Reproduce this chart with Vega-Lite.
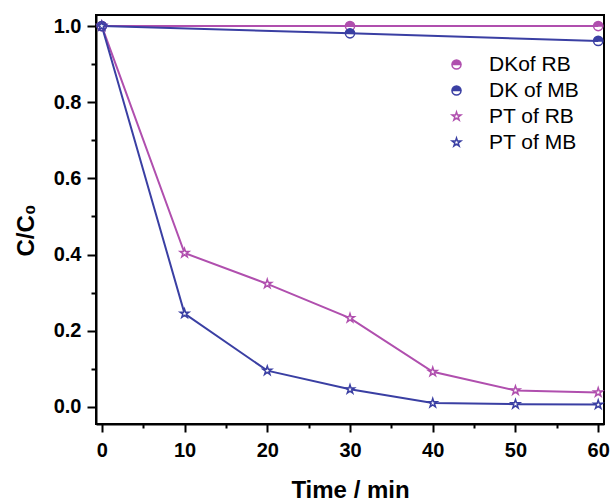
{
  "$schema": "https://vega.github.io/schema/vega-lite/v6.json",
  "width": 508,
  "height": 409,
  "autosize": {"type": "none"},
  "padding": {"left": 96, "top": 15, "right": 9, "bottom": 77},
  "background": "white",
  "config": {
    "font": "Liberation Sans",
    "view": {"stroke": "black", "strokeWidth": 2},
    "axis": {
      "domainColor": "black", "domainWidth": 2, "tickColor": "black", "tickWidth": 2,
      "labelFont": "Liberation Sans", "labelFontWeight": "bold", "labelFontSize": 20, "labelColor": "black",
      "titleFont": "Liberation Sans", "titleFontWeight": "bold", "titleFontSize": 24, "titleColor": "black",
      "grid": false
    },
    "legend": {
      "padding": 0,
      "symbolSize": 81, "symbolStrokeWidth": 1.5, "symbolOffset": 0,
      "labelFont": "Liberation Sans", "labelFontSize": 21, "labelColor": "black", "labelOffset": 22,
      "rowPadding": 4
    }
  },
  "data": {
    "values": [
      {"series": "DKof RB", "time": 0, "value": 1.0},
      {"series": "DKof RB", "time": 30, "value": 1.0},
      {"series": "DKof RB", "time": 60, "value": 1.0},
      {"series": "DK of MB", "time": 0, "value": 1.0},
      {"series": "DK of MB", "time": 30, "value": 0.981},
      {"series": "DK of MB", "time": 60, "value": 0.961},
      {"series": "PT of RB", "time": 0, "value": 1.0},
      {"series": "PT of RB", "time": 10, "value": 0.404},
      {"series": "PT of RB", "time": 20, "value": 0.323},
      {"series": "PT of RB", "time": 30, "value": 0.233},
      {"series": "PT of RB", "time": 40, "value": 0.092},
      {"series": "PT of RB", "time": 50, "value": 0.043},
      {"series": "PT of RB", "time": 60, "value": 0.038},
      {"series": "PT of MB", "time": 0, "value": 1.0},
      {"series": "PT of MB", "time": 10, "value": 0.245},
      {"series": "PT of MB", "time": 20, "value": 0.095},
      {"series": "PT of MB", "time": 30, "value": 0.046},
      {"series": "PT of MB", "time": 40, "value": 0.010},
      {"series": "PT of MB", "time": 50, "value": 0.007},
      {"series": "PT of MB", "time": 60, "value": 0.006}
    ]
  },
  "layer": [
    {
      "mark": {"type": "line", "strokeWidth": 2},
      "encoding": {
        "x": {"field": "time", "type": "quantitative",
              "scale": {"domain": [-0.7, 60.7], "nice": false, "zero": false},
              "axis": {"orient": "bottom", "values": [5, 15, 25, 35, 45, 55], "tickSize": 4, "labels": false, "domain": false, "title": null}},
        "y": {"field": "value", "type": "quantitative",
              "scale": {"domain": [-0.045, 1.029], "nice": false, "zero": false},
              "axis": {"orient": "left", "values": [0.1, 0.3, 0.5, 0.7, 0.9], "tickSize": 5, "labels": false, "domain": false, "title": null}},
        "stroke": {"field": "series", "type": "nominal", "title": null,
                  "scale": {"domain": ["DKof RB", "DK of MB", "PT of RB", "PT of MB"], "range": ["#b04fae", "#3a3fa3", "#b04fae", "#3a3fa3"]},
                  "legend": {
                     "orient": "none", "legendX": 350, "legendY": 39, "title": null,
                     "encoding": {"symbols": {
                       "shape": {"condition": {"test": "datum.value === 'DKof RB' || datum.value === 'DK of MB'", "value": "M -5.33 0 L -1 0 M 1 0 L 5.33 0 M -1 0 A 1 1 0 0 1 1 0 Z M 1 0 A 1 1 0 0 1 -1 0 Z M -1 0 A 1 1 0 0 0 1 0 Z"}, "value": "M -5.33 0 L -0.951 0 M 0.951 0 L 5.33 0 M 0 -1 L 0.2245 -0.309 L 0.951 -0.309 L 0.363 0.118 L 0.588 0.809 L 0 0.382 L -0.588 0.809 L -0.363 0.118 L -0.951 -0.309 L -0.2245 -0.309 Z"},
                       "fill": {"condition": [{"test": "datum.value === 'DKof RB'", "value": "#b04fae"}, {"test": "datum.value === 'DK of MB'", "value": "#3a3fa3"}], "value": "white"},
                       "stroke": {"condition": {"test": "datum.value === 'DKof RB' || datum.value === 'PT of RB'", "value": "#b04fae"}, "value": "#3a3fa3"}
                     }}
                   }},
        "detail": {"field": "series"}
      }
    },
    {
      "mark": {"type": "point", "size": 85, "strokeWidth": 1.5, "opacity": 1},
      "encoding": {
        "x": {"field": "time", "type": "quantitative",
              "axis": {"orient": "bottom", "values": [0, 10, 20, 30, 40, 50, 60], "tickSize": 8, "labelPadding": 8,
                       "title": "Time / min", "titleY": 73, "titleBaseline": "alphabetic"}},
        "y": {"field": "value", "type": "quantitative",
              "axis": {"orient": "left", "values": [0, 0.2, 0.4, 0.6, 0.8, 1.0], "format": ".1f", "tickSize": 9, "labelPadding": 6,
                       "title": "C/C₀", "titleX": -63, "titleY": 215, "titleAngle": -90, "titleAlign": "center", "titleBaseline": "alphabetic"}},
        "stroke": {"field": "series", "type": "nominal", "title": null},
        "fill": {"field": "series", "type": "nominal", "title": null,
                 "scale": {"domain": ["DKof RB", "DK of MB", "PT of RB", "PT of MB"], "range": ["#b04fae", "#3a3fa3", "white", "white"]},
                 "legend": {
                     "orient": "none", "legendX": 350, "legendY": 39, "title": null,
                     "encoding": {"symbols": {
                       "shape": {"condition": {"test": "datum.value === 'DKof RB' || datum.value === 'DK of MB'", "value": "M -5.33 0 L -1 0 M 1 0 L 5.33 0 M -1 0 A 1 1 0 0 1 1 0 Z M 1 0 A 1 1 0 0 1 -1 0 Z M -1 0 A 1 1 0 0 0 1 0 Z"}, "value": "M -5.33 0 L -0.951 0 M 0.951 0 L 5.33 0 M 0 -1 L 0.2245 -0.309 L 0.951 -0.309 L 0.363 0.118 L 0.588 0.809 L 0 0.382 L -0.588 0.809 L -0.363 0.118 L -0.951 -0.309 L -0.2245 -0.309 Z"},
                       "fill": {"condition": [{"test": "datum.value === 'DKof RB'", "value": "#b04fae"}, {"test": "datum.value === 'DK of MB'", "value": "#3a3fa3"}], "value": "white"},
                       "stroke": {"condition": {"test": "datum.value === 'DKof RB' || datum.value === 'PT of RB'", "value": "#b04fae"}, "value": "#3a3fa3"}
                     }}
                   }},
        "shape": {"field": "series", "type": "nominal", "title": null,
                  "scale": {"domain": ["DKof RB", "DK of MB", "PT of RB", "PT of MB"],
                            "range": ["M -1 0 A 1 1 0 0 1 1 0 Z M 1 0 A 1 1 0 0 1 -1 0 Z M -1 0 A 1 1 0 0 0 1 0 Z",
                                      "M -1 0 A 1 1 0 0 1 1 0 Z M 1 0 A 1 1 0 0 1 -1 0 Z M -1 0 A 1 1 0 0 0 1 0 Z",
                                      "M 0 -1 L 0.2245 -0.309 L 0.951 -0.309 L 0.363 0.118 L 0.588 0.809 L 0 0.382 L -0.588 0.809 L -0.363 0.118 L -0.951 -0.309 L -0.2245 -0.309 Z",
                                      "M 0 -1 L 0.2245 -0.309 L 0.951 -0.309 L 0.363 0.118 L 0.588 0.809 L 0 0.382 L -0.588 0.809 L -0.363 0.118 L -0.951 -0.309 L -0.2245 -0.309 Z"]},
                  "legend": {
                     "orient": "none", "legendX": 350, "legendY": 39, "title": null,
                     "encoding": {"symbols": {
                       "shape": {"condition": {"test": "datum.value === 'DKof RB' || datum.value === 'DK of MB'", "value": "M -5.33 0 L -1 0 M 1 0 L 5.33 0 M -1 0 A 1 1 0 0 1 1 0 Z M 1 0 A 1 1 0 0 1 -1 0 Z M -1 0 A 1 1 0 0 0 1 0 Z"}, "value": "M -5.33 0 L -0.951 0 M 0.951 0 L 5.33 0 M 0 -1 L 0.2245 -0.309 L 0.951 -0.309 L 0.363 0.118 L 0.588 0.809 L 0 0.382 L -0.588 0.809 L -0.363 0.118 L -0.951 -0.309 L -0.2245 -0.309 Z"},
                       "fill": {"condition": [{"test": "datum.value === 'DKof RB'", "value": "#b04fae"}, {"test": "datum.value === 'DK of MB'", "value": "#3a3fa3"}], "value": "white"},
                       "stroke": {"condition": {"test": "datum.value === 'DKof RB' || datum.value === 'PT of RB'", "value": "#b04fae"}, "value": "#3a3fa3"}
                     }}
                   }}
      }
    }
  ],
  "resolve": {"axis": {"x": "independent", "y": "independent"}}
}
